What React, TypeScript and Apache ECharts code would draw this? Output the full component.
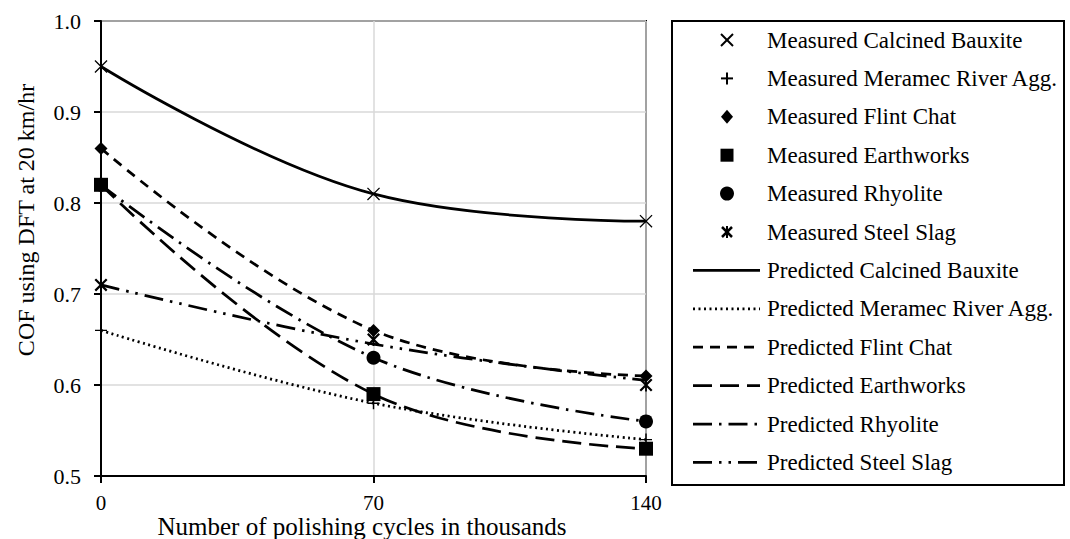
import React, { useEffect, useRef } from "react";
import * as echarts from "echarts";

// Polishing cycles (thousands)
const cycles = [0, 70, 140];

// Measured COF values
const measuredBauxite = [0.95, 0.81, 0.78];
const measuredMeramec = [0.66, 0.58, 0.54];
const measuredFlint = [0.86, 0.66, 0.61];
const measuredEarthworks = [0.82, 0.59, 0.53];
const measuredRhyolite = [0.82, 0.63, 0.56];
const measuredSlag = [0.71, 0.65, 0.6];

// Predicted COF values
const predictedBauxite = [0.95, 0.81, 0.78];
const predictedMeramec = [0.66, 0.58, 0.54];
const predictedFlint = [0.86, 0.66, 0.61];
const predictedEarthworks = [0.82, 0.59, 0.53];
const predictedRhyolite = [0.82, 0.63, 0.56];
const predictedSlag = [0.71, 0.645, 0.605];

const FONT = "'Liberation Serif', 'Times New Roman', serif";

const SYM_X = "path://M7,0L100,93L93,100L0,7ZM93,0L100,7L7,100L0,93Z";
const SYM_PLUS = "path://M44,0H56V44H100V56H56V100H44V56H0V44H44Z";
const SYM_STAR =
  "path://M12,0L100,88L88,100L0,12ZM88,0L100,12L12,100L0,88ZM43,0H57V100H43Z";

const pts = (ys: number[]) => cycles.map((c, i) => [c, ys[i]]);

type Marker = "x" | "plus" | "diamond" | "square" | "circle" | "star";

const measured: { name: string; data: number[]; symbol: string; size: number; key: Marker }[] = [
  { name: "Measured Calcined Bauxite", data: measuredBauxite, symbol: SYM_X, size: 13, key: "x" },
  { name: "Measured Meramec River Agg.", data: measuredMeramec, symbol: SYM_PLUS, size: 12, key: "plus" },
  { name: "Measured Flint Chat", data: measuredFlint, symbol: "diamond", size: 13, key: "diamond" },
  { name: "Measured Earthworks", data: measuredEarthworks, symbol: "rect", size: 14, key: "square" },
  { name: "Measured Rhyolite", data: measuredRhyolite, symbol: "circle", size: 14, key: "circle" },
  { name: "Measured Steel Slag", data: measuredSlag, symbol: SYM_STAR, size: 13, key: "star" },
];

const predicted: { name: string; data: number[]; dash: number[] | null }[] = [
  { name: "Predicted Calcined Bauxite", data: predictedBauxite, dash: null },
  { name: "Predicted Meramec River Agg.", data: predictedMeramec, dash: [2, 3.5] },
  { name: "Predicted Flint Chat", data: predictedFlint, dash: [10, 7] },
  { name: "Predicted Earthworks", data: predictedEarthworks, dash: [19, 8] },
  { name: "Predicted Rhyolite", data: predictedRhyolite, dash: [19, 7, 2.5, 7] },
  { name: "Predicted Steel Slag", data: predictedSlag, dash: [19, 7, 2.5, 7, 2.5, 7] },
];

// Legend box geometry
const LEG = { x: 672, y: 21, w: 392, h: 464, firstRow: 40, step: 38.4, markX: 727, lineX0: 693, lineX1: 760, textX: 767 };

function legendMarker(key: Marker, cx: number, cy: number): any[] {
  const stroke = { stroke: "#000", lineWidth: 2 };
  const r = 6;
  switch (key) {
    case "x":
      return [
        { type: "line", shape: { x1: cx - r, y1: cy - r, x2: cx + r, y2: cy + r }, style: stroke },
        { type: "line", shape: { x1: cx + r, y1: cy - r, x2: cx - r, y2: cy + r }, style: stroke },
      ];
    case "plus":
      return [
        { type: "line", shape: { x1: cx - r, y1: cy, x2: cx + r, y2: cy }, style: stroke },
        { type: "line", shape: { x1: cx, y1: cy - r, x2: cx, y2: cy + r }, style: stroke },
      ];
    case "diamond":
      return [
        {
          type: "polygon",
          shape: { points: [[cx, cy - 7], [cx + 6, cy], [cx, cy + 7], [cx - 6, cy]] },
          style: { fill: "#000" },
        },
      ];
    case "square":
      return [{ type: "rect", shape: { x: cx - 6.5, y: cy - 6.5, width: 13, height: 13 }, style: { fill: "#000" } }];
    case "circle":
      return [{ type: "circle", shape: { cx, cy, r: 7 }, style: { fill: "#000" } }];
    case "star":
      return [
        { type: "line", shape: { x1: cx - 5, y1: cy - 5, x2: cx + 5, y2: cy + 5 }, style: { stroke: "#000", lineWidth: 2.5 } },
        { type: "line", shape: { x1: cx + 5, y1: cy - 5, x2: cx - 5, y2: cy + 5 }, style: { stroke: "#000", lineWidth: 2.5 } },
        { type: "line", shape: { x1: cx, y1: cy - 6, x2: cx, y2: cy + 6 }, style: { stroke: "#000", lineWidth: 2 } },
      ];
  }
  return [];
}

function legendText(text: string, y: number) {
  return {
    type: "text",
    x: LEG.textX,
    y,
    style: { text, font: `23px ${FONT}`, fill: "#000", textAlign: "left", textVerticalAlign: "middle" },
  };
}

export default function App() {
  const ref = useRef<HTMLDivElement>(null);

  useEffect(() => {
    if (!ref.current) return;
    const chart = echarts.init(ref.current, null, { renderer: "svg" });

    const lineSeries = predicted.map((p) => ({
      name: p.name,
      type: "line",
      data: pts(p.data),
      smooth: 0.4,
      symbol: "none",
      z: 2,
      lineStyle: { color: "#000", width: 2.75, type: p.dash ?? "solid", cap: "butt" },
      itemStyle: { color: "#000" },
    }));

    const scatterSeries = measured.map((m) => ({
      name: m.name,
      type: "scatter",
      data: pts(m.data),
      symbol: m.symbol,
      symbolSize: m.size,
      symbolKeepAspect: true,
      z: 5,
      itemStyle: { color: "#000", opacity: 1 },
    }));

    // Legend drawn as graphic elements: markers for measured, line samples for predicted
    const legendEls: any[] = [
      {
        type: "rect",
        shape: { x: LEG.x, y: LEG.y, width: LEG.w, height: LEG.h },
        style: { fill: "#fff", stroke: "#000", lineWidth: 2 },
      },
    ];
    measured.forEach((m, i) => {
      const y = LEG.firstRow + LEG.step * i;
      legendEls.push(...legendMarker(m.key, LEG.markX, y));
      legendEls.push(legendText(m.name, y));
    });
    predicted.forEach((p, i) => {
      const y = LEG.firstRow + LEG.step * (i + measured.length);
      legendEls.push({
        type: "line",
        shape: { x1: LEG.lineX0, y1: y, x2: LEG.lineX1, y2: y },
        style: { stroke: "#000", lineWidth: 2.75, lineDash: p.dash ?? undefined },
      });
      legendEls.push(legendText(p.name, y));
    });

    chart.setOption({
      animation: false,
      backgroundColor: "#fff",
      grid: {
        left: 101,
        right: 424,
        top: 21,
        bottom: 63,
        show: true,
        borderColor: "#000",
        borderWidth: 2,
        backgroundColor: "transparent",
      },
      xAxis: {
        type: "value",
        min: 0,
        max: 140,
        interval: 70,
        axisLine: { lineStyle: { color: "#000", width: 2 } },
        axisTick: { show: true, length: 7, lineStyle: { color: "#000", width: 2 } },
        axisLabel: { color: "#000", fontFamily: FONT, fontSize: 21, margin: 16 },
        splitLine: { show: true, lineStyle: { color: "#d9d9d9", width: 1.5 } },
      },
      yAxis: {
        type: "value",
        min: 0.5,
        max: 1.0,
        interval: 0.1,
        axisLine: { show: true, lineStyle: { color: "#000", width: 2 } },
        axisTick: { show: true, length: 7, lineStyle: { color: "#000", width: 2 } },
        axisLabel: {
          color: "#000",
          fontFamily: FONT,
          fontSize: 22,
          margin: 20,
          formatter: (v: number) => v.toFixed(1),
        },
        splitLine: { show: true, lineStyle: { color: "#d9d9d9", width: 1.5 } },
      },
      graphic: [
        ...legendEls,
        {
          type: "text",
          x: 362,
          y: 526,
          style: {
            text: "Number of polishing cycles in thousands",
            font: `25px ${FONT}`,
            fill: "#000",
            textAlign: "center",
            textVerticalAlign: "middle",
          },
        },
        {
          type: "text",
          x: 26,
          y: 220,
          rotation: Math.PI / 2,
          style: {
            text: "COF using DFT at 20 km/hr",
            font: `24px ${FONT}`,
            fill: "#000",
            textAlign: "center",
            textVerticalAlign: "middle",
          },
        },
      ],
      series: [...scatterSeries, ...lineSeries],
    });

    return () => chart.dispose();
  }, []);

  return (
    <div
      ref={ref}
      style={{ position: "absolute", left: 0, top: 0, width: 1070, height: 539 }}
    />
  );
}
